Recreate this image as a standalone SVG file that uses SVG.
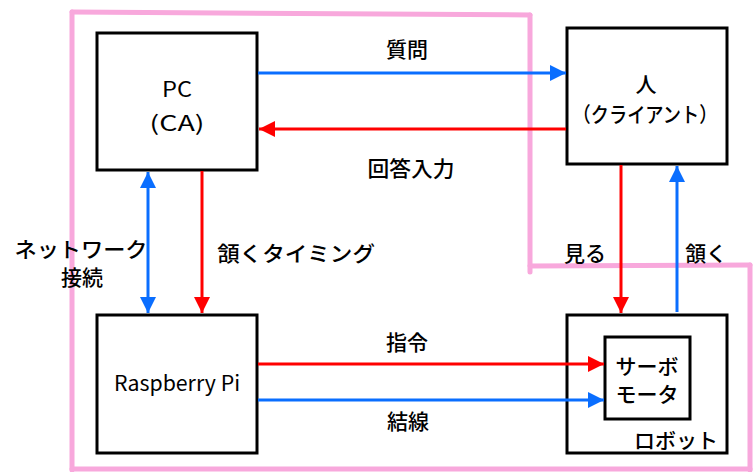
<svg xmlns="http://www.w3.org/2000/svg" width="756" height="472" viewBox="0 0 756 472">
<style>
.box{fill:#fff;stroke:#000;stroke-width:3}
.pink{fill:none;stroke:#F8A8DC;stroke-width:5;stroke-linecap:round}
.t{font-family:"Noto Sans CJK JP","Liberation Sans",sans-serif;font-size:21px;font-weight:500;fill:#000}
.lat{font-weight:normal}
.blue{stroke:#0A6EFF;stroke-width:3;fill:none}
.red{stroke:#FF0000;stroke-width:3;fill:none}
</style>
<defs>
<marker id="ab" markerUnits="userSpaceOnUse" markerWidth="16" markerHeight="16" refX="16" refY="8" orient="auto-start-reverse"><path d="M0,0 L16,8 L0,16 Z" fill="#0A6EFF"/></marker>
<marker id="ar" markerUnits="userSpaceOnUse" markerWidth="16" markerHeight="16" refX="16" refY="8" orient="auto-start-reverse"><path d="M0,0 L16,8 L0,16 Z" fill="#FF0000"/></marker>
</defs>
<rect width="756" height="472" fill="#fff"/>
<g id="boundary">
<line class="pink" x1="72" y1="12" x2="530" y2="15"/>
<line class="pink" x1="530" y1="15" x2="530" y2="272"/>
<line class="pink" x1="530" y1="266" x2="750" y2="265"/>
<line class="pink" x1="750" y1="265" x2="750" y2="470"/>
<line class="pink" x1="72" y1="12" x2="72" y2="470"/>
<line class="pink" x1="72" y1="469" x2="750" y2="469"/>
</g>
<g id="pc">
<rect class="box" x="97" y="33" width="160" height="137"/>
<text class="t lat" x="177" y="97" text-anchor="middle" font-size="25" textLength="30" lengthAdjust="spacingAndGlyphs">PC</text>
<text class="t lat" x="177" y="131" text-anchor="middle" font-size="25" textLength="55" lengthAdjust="spacingAndGlyphs">(CA)</text>
</g>
<g id="person">
<rect class="box" x="567" y="28" width="160" height="136"/>
<text class="t" x="646" y="92" text-anchor="middle">人</text>
<text class="t" x="645" y="122" text-anchor="middle" font-size="20" textLength="145" lengthAdjust="spacingAndGlyphs">（クライアント）</text>
</g>
<g id="raspberry">
<rect class="box" x="97" y="315" width="160" height="138"/>
<text class="t lat" x="177" y="391" text-anchor="middle" font-size="24" textLength="126" lengthAdjust="spacingAndGlyphs">Raspberry Pi</text>
</g>
<g id="robot">
<rect class="box" x="567" y="315" width="160" height="138"/>
<text class="t" x="718" y="448" text-anchor="end">ロボット</text>
</g>
<g id="servo">
<rect class="box" x="605" y="337" width="85" height="82"/>
<text class="t" x="647" y="374" text-anchor="middle">サーボ</text>
<text class="t" x="647" y="402" text-anchor="middle">モータ</text>
</g>
<g id="connectors">
<line class="blue" x1="258" y1="73" x2="566" y2="73" marker-end="url(#ab)"/>
<line class="red" x1="566" y1="129" x2="259" y2="129" marker-end="url(#ar)"/>
<line class="blue" x1="148" y1="172" x2="148" y2="313" marker-start="url(#ab)" marker-end="url(#ab)"/>
<line class="red" x1="202" y1="171" x2="202" y2="313" marker-end="url(#ar)"/>
<line class="red" x1="621" y1="165" x2="621" y2="313" marker-end="url(#ar)"/>
<line class="blue" x1="677" y1="312" x2="677" y2="166" marker-end="url(#ab)"/>
<line class="red" x1="258" y1="364" x2="604" y2="364" marker-end="url(#ar)"/>
<line class="blue" x1="258" y1="400" x2="604" y2="400" marker-end="url(#ab)"/>
</g>
<g id="labels">
<text class="t" x="407" y="57" text-anchor="middle">質問</text>
<text class="t" x="411" y="176" text-anchor="middle" textLength="87" lengthAdjust="spacingAndGlyphs">回答入力</text>
<text class="t" x="81" y="257" text-anchor="middle" textLength="133" lengthAdjust="spacingAndGlyphs">ネットワーク</text>
<text class="t" x="82" y="285" text-anchor="middle">接続</text>
<text class="t" x="296" y="261" text-anchor="middle" textLength="158" lengthAdjust="spacingAndGlyphs">頷くタイミング</text>
<text class="t" x="585" y="261" text-anchor="middle">見る</text>
<text class="t" x="706" y="261" text-anchor="middle">頷く</text>
<text class="t" x="407" y="350" text-anchor="middle">指令</text>
<text class="t" x="408" y="429" text-anchor="middle">結線</text>
</g>
</svg>
